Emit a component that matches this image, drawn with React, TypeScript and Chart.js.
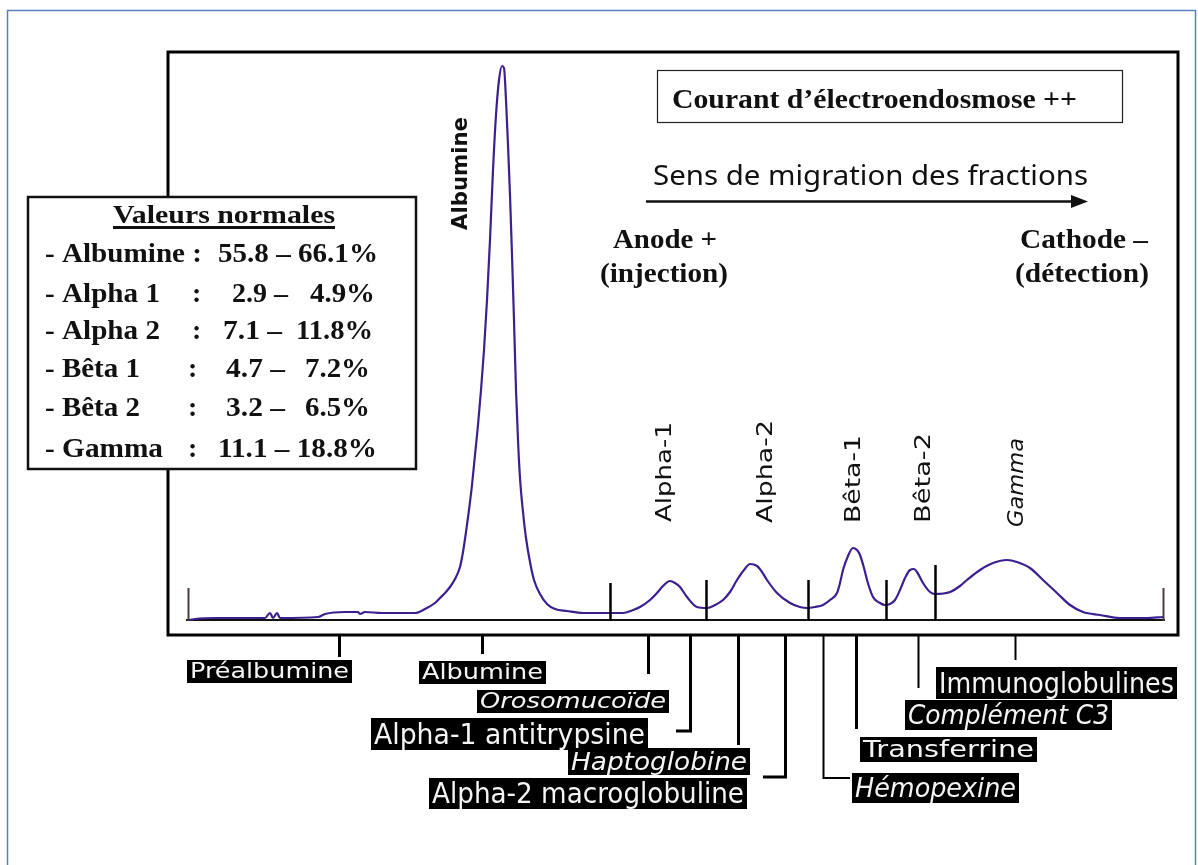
import React, { useEffect, useRef } from "react";
import { Chart, registerables } from "chart.js";

Chart.register(...registerables);

// Electropherogram trace (migration distance, arbitrary units / absorbance, arbitrary units)
const migration = [
  22, 27, 49, 97, 102, 105, 109, 112, 150, 157,
  177, 190, 192, 197, 214, 247, 257, 267, 272, 277,
  282, 287, 292, 295, 298, 301, 304, 307, 310, 313,
  316, 319, 322, 325, 328, 331, 334, 336, 338, 340,
  342, 344, 346, 348, 350, 352, 355, 358, 362, 366,
  372, 379, 387, 399, 415, 442, 455, 465, 472, 482,
  489, 495, 502, 507, 512, 519, 529, 539, 547, 555,
  562, 569, 576, 582, 589, 594, 599, 609, 622, 632,
  639, 647, 655, 662, 669, 672, 675, 680, 685, 689,
  692, 696, 699, 705, 712, 717, 722, 727, 732, 737,
  742, 746, 749, 755, 762, 767, 782, 792, 799, 812,
  825, 839, 849, 862, 875, 889, 902, 915, 932, 952,
  979, 995,
];
const intensity = [
  0, 1, 2, 2, 7, 2, 7, 2, 3, 6,
  8, 8, 6, 8, 7, 7, 11, 17, 22, 27,
  33, 41, 53, 68, 88, 110, 135, 165, 195, 230,
  270, 320, 380, 450, 505, 540, 554, 552, 520, 475,
  425, 365, 300, 230, 180, 142, 108, 82, 58, 40,
  26, 16, 11, 9, 7, 7, 7, 10, 13, 20,
  27, 34, 39, 37, 33, 23, 13, 12, 15, 20,
  28, 40, 50, 56, 54, 48, 40, 27, 17, 13,
  12, 13, 15, 20, 27, 37, 50, 64, 72, 70,
  65, 52, 40, 23, 17, 15, 16, 20, 30, 42,
  50, 51, 48, 37, 28, 26, 28, 34, 40, 50,
  57, 60, 58, 52, 40, 27, 15, 8, 5, 2,
  2, 3,
];

// Fraction boundaries (same units)
const separatorPositions = [20, 442, 538, 640, 718, 767, 995];
const separatorHeights = [32, 37, 40, 40, 40, 55, 32];

// Fraction names above peaks
const fractionNames = ["Albumine", "Alpha-1", "Alpha-2", "Bêta-1", "Bêta-2", "Gamma"];
const fractionPositions = [294, 498, 599, 687, 757, 850];

// Proteins under the trace
const proteinNames = [
  "Préalbumine",
  "Albumine",
  "Orosomucoïde",
  "Alpha-1 antitrypsine",
  "Haptoglobine",
  "Alpha-2 macroglobuline",
  "Hémopexine",
  "Transferrine",
  "Complément C3",
  "Immunoglobulines",
];
const proteinPositions = [171, 314, 480, 522, 570, 617, 655, 688, 750, 847];

// Normal values (%)
const normalFractions = ["Albumine", "Alpha 1", "Alpha 2", "Bêta 1", "Bêta 2", "Gamma"];
const normalLow = [55.8, 2.9, 7.1, 4.7, 3.2, 11.1];
const normalHigh = [66.1, 4.9, 11.8, 7.2, 6.5, 18.8];

// ---------- layout (pixels) ----------
const SERIF = '"Liberation Serif", "Times New Roman", serif';
const SANS = '"DejaVu Sans", sans-serif';

const fractionLayout = [
  { bottom: 230, len: 113, weight: "bold", style: "normal" },
  { bottom: 522, len: 100, weight: "normal", style: "normal" },
  { bottom: 523, len: 103, weight: "normal", style: "normal" },
  { bottom: 523, len: 88, weight: "normal", style: "normal" },
  { bottom: 523, len: 90, weight: "normal", style: "normal" },
  { bottom: 527, len: 89, weight: "normal", style: "italic" },
];

const proteinLayout = [
  { end: 657, hook: null, box: [187, 660, 165, 23], italic: false, lw: 3 },
  { end: 654, hook: null, box: [419, 661, 127, 23], italic: false, lw: 3 },
  { end: 674, hook: null, box: [477, 690, 192, 23], italic: true, lw: 3 },
  { end: 731, hook: 676, box: [371, 718, 277, 32], italic: false, lw: 3 },
  { end: 745, hook: null, box: [568, 748, 182, 27], italic: true, lw: 3 },
  { end: 777, hook: 763, box: [429, 778, 318, 31], italic: false, lw: 3 },
  { end: 778, hook: 850, box: [852, 773, 167, 30], italic: true, lw: 2 },
  { end: 729, hook: null, box: [860, 737, 177, 25], italic: false, lw: 3 },
  { end: 688, hook: null, box: [905, 700, 207, 30], italic: true, lw: 2 },
  { end: 660, hook: null, box: [936, 667, 241, 32], italic: false, lw: 2 },
];

const legendBaselines = [262, 302, 339, 377, 416, 457];
const legendLabelW = [157, 115, 115, 95, 95, 118];
const legendColonX = [0, 192, 192, 188, 188, 188];
const legendLow = [[218, 160], [232, 56], [223, 59], [226, 59], [226, 59], [218, 159]];
const legendHigh = [null, [310, 65], [296, 77], [305, 65], [305, 65], null];

function fitText(
  ctx: CanvasRenderingContext2D,
  text: string,
  x: number,
  y: number,
  width: number,
  font: string,
  color: string
) {
  ctx.save();
  ctx.font = font;
  const w = ctx.measureText(text).width;
  ctx.translate(x, y);
  ctx.scale(width / w, 1);
  ctx.fillStyle = color;
  ctx.textBaseline = "alphabetic";
  ctx.textAlign = "left";
  ctx.fillText(text, 0, 0);
  ctx.restore();
}

export default function App() {
  const ref = useRef<HTMLCanvasElement>(null);

  useEffect(() => {
    const canvas = ref.current!;

    const overlay = {
      id: "overlay",
      beforeDatasetsDraw(chart: any) {
        const ctx: CanvasRenderingContext2D = chart.ctx;
        const xs = chart.scales.x;
        const ys = chart.scales.y;
        ctx.save();
        ctx.strokeStyle = "#111";
        ctx.lineWidth = 2;
        ctx.beginPath();
        const y0 = ys.getPixelForValue(0);
        ctx.moveTo(xs.getPixelForValue(separatorPositions[0] - 2), y0);
        ctx.lineTo(xs.getPixelForValue(separatorPositions[separatorPositions.length - 1] + 2), y0);
        ctx.stroke();
        ctx.restore();
      },
      afterDatasetsDraw(chart: any) {
        const ctx: CanvasRenderingContext2D = chart.ctx;
        const xs = chart.scales.x;
        const ys = chart.scales.y;
        ctx.save();
        separatorPositions.forEach((p, i) => {
          const end = i === 0 || i === separatorPositions.length - 1;
          ctx.strokeStyle = end ? "#4a3c3c" : "#000";
          ctx.lineWidth = end ? 2 : 2.5;
          const x = Math.round(xs.getPixelForValue(p)) + 0.5;
          ctx.beginPath();
          ctx.moveTo(x, ys.getPixelForValue(0) + 1);
          ctx.lineTo(x, ys.getPixelForValue(separatorHeights[i]));
          ctx.stroke();
        });
        ctx.restore();
      },
      afterDraw(chart: any) {
        const ctx: CanvasRenderingContext2D = chart.ctx;
        const ca = chart.chartArea;
        const xs = chart.scales.x;
        ctx.save();

        // outer blue border
        ctx.strokeStyle = "#5b80c2";
        ctx.lineWidth = 1.5;
        ctx.strokeRect(7.5, 10.5, 1188, 900);

        // main frame
        ctx.strokeStyle = "#000";
        ctx.lineWidth = 3;
        ctx.strokeRect(ca.left, ca.top, ca.right - ca.left, ca.bottom - ca.top);

        // normal values box
        ctx.fillStyle = "#fff";
        ctx.fillRect(27, 196, 390, 274);
        ctx.lineWidth = 2.5;
        ctx.strokeStyle = "#111";
        ctx.strokeRect(28, 197, 388, 272);
        fitText(ctx, "Valeurs normales", 113, 223, 222, `bold 25px ${SERIF}`, "#111");
        ctx.fillStyle = "#111";
        ctx.fillRect(113, 226, 222, 3);
        normalFractions.forEach((name, i) => {
          const by = legendBaselines[i];
          const f = `bold 28px ${SERIF}`;
          if (i === 0) {
            fitText(ctx, `- ${name} :`, 45, by, legendLabelW[i], f, "#111");
          } else {
            fitText(ctx, `- ${name}`, 45, by, legendLabelW[i], f, "#111");
            ctx.font = f;
            ctx.fillStyle = "#111";
            ctx.fillText(":", legendColonX[i], by);
          }
          const lo = legendLow[i];
          const hi = legendHigh[i];
          if (hi) {
            fitText(ctx, `${normalLow[i].toFixed(1)} –`, lo[0], by, lo[1], f, "#111");
            fitText(ctx, `${normalHigh[i].toFixed(1)}%`, hi[0], by, hi[1], f, "#111");
          } else {
            fitText(
              ctx,
              `${normalLow[i].toFixed(1)} – ${normalHigh[i].toFixed(1)}%`,
              lo[0],
              by,
              lo[1],
              f,
              "#111"
            );
          }
        });

        // electro-osmotic flow box
        ctx.lineWidth = 1.2;
        ctx.strokeStyle = "#222";
        ctx.strokeRect(657.5, 70.5, 465, 52);
        fitText(ctx, "Courant d’électroendosmose ++", 672, 108, 405, `bold 27px ${SERIF}`, "#111");

        // migration direction
        fitText(ctx, "Sens de migration des fractions", 653, 185, 435, `28px "Noto Sans", sans-serif`, "#111");
        ctx.strokeStyle = "#111";
        ctx.lineWidth = 2.5;
        ctx.beginPath();
        ctx.moveTo(646, 201.5);
        ctx.lineTo(1075, 201.5);
        ctx.stroke();
        ctx.fillStyle = "#111";
        ctx.beginPath();
        ctx.moveTo(1071, 195);
        ctx.lineTo(1088, 201.5);
        ctx.lineTo(1071, 208);
        ctx.closePath();
        ctx.fill();

        fitText(ctx, "Anode +", 613, 248, 104, `bold 28px ${SERIF}`, "#111");
        fitText(ctx, "(injection)", 600, 282, 128, `bold 28px ${SERIF}`, "#111");
        fitText(ctx, "Cathode –", 1020, 248, 128, `bold 28px ${SERIF}`, "#111");
        fitText(ctx, "(détection)", 1015, 282, 134, `bold 28px ${SERIF}`, "#111");

        // rotated fraction names
        fractionNames.forEach((name, i) => {
          const L = fractionLayout[i];
          const cx = xs.getPixelForValue(fractionPositions[i]);
          ctx.save();
          ctx.font = `${L.style} ${L.weight} 21px ${SANS}`;
          const w = ctx.measureText(name).width;
          ctx.translate(cx, L.bottom);
          ctx.rotate(-Math.PI / 2);
          ctx.scale(L.len / w, 1);
          ctx.fillStyle = "#111";
          ctx.textBaseline = "middle";
          ctx.fillText(name, 0, 0);
          ctx.restore();
        });

        // proteins under the frame
        proteinNames.forEach((name, i) => {
          const L = proteinLayout[i];
          const x = Math.round(xs.getPixelForValue(proteinPositions[i])) + 0.5;
          ctx.strokeStyle = "#000";
          ctx.lineWidth = L.lw;
          ctx.beginPath();
          ctx.moveTo(x, ca.bottom);
          ctx.lineTo(x, L.end);
          if (L.hook !== null) ctx.lineTo(L.hook, L.end);
          ctx.stroke();
          const [bx, by, bw, bh] = L.box;
          ctx.fillStyle = "#000";
          ctx.fillRect(bx, by, bw, bh);
          ctx.save();
          ctx.beginPath();
          ctx.rect(bx, by, bw, bh);
          ctx.clip();
          fitText(
            ctx,
            name,
            bx + 3,
            by + bh * 0.8,
            bw - 6,
            `${L.italic ? "italic " : ""}${Math.round(bh * 0.9)}px ${SANS}`,
            "#f4f4f4"
          );
          ctx.restore();
        });

        ctx.restore();
      },
    };

    const chart = new Chart(canvas, {
      type: "line",
      data: {
        datasets: [
          {
            data: migration.map((m, i) => ({ x: m, y: intensity[i] })),
            borderColor: "#3d1f8f",
            borderWidth: 2.2,
            pointRadius: 0,
            cubicInterpolationMode: "monotone",
            fill: false,
          },
        ],
      },
      options: {
        animation: false,
        responsive: false,
        devicePixelRatio: 1,
        events: [],
        layout: { padding: { left: 168, right: 20, top: 52, bottom: 230 } },
        scales: {
          x: { type: "linear", min: 0, max: 1010, display: false },
          y: { type: "linear", min: -15, max: 568, display: false },
        },
        plugins: { legend: { display: false }, tooltip: { enabled: false } },
      },
      plugins: [overlay],
    } as any);

    return () => chart.destroy();
  }, []);

  return (
    <div style={{ position: "absolute", left: 0, top: 0, width: 1198, height: 865, background: "#fff" }}>
      <canvas ref={ref} width={1198} height={865} style={{ display: "block" }} />
    </div>
  );
}
